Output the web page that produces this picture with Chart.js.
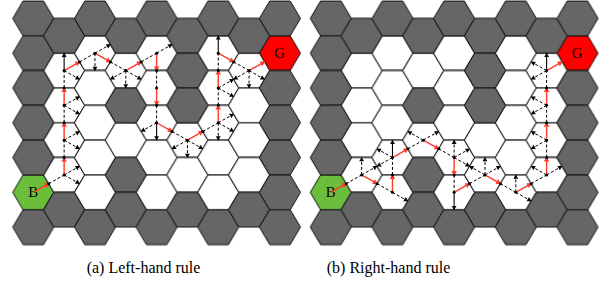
<!DOCTYPE html>
<html>
<head>
<meta charset="utf-8">
<script src="https://cdn.jsdelivr.net/npm/chart.js@4/dist/chart.umd.min.js"></script>
<style>
html, body { margin: 0; padding: 0; background: #fff; }
#wrap { position: relative; width: 608px; height: 285px; overflow: hidden; }
#wrap canvas { position: absolute; top: 0; }
.cap { position: absolute; top: 259px; font-family: "Liberation Serif", "DejaVu Serif", serif; font-size: 16px;
       line-height: 18px; white-space: nowrap; transform: translateX(-50%); color: #000; }
</style>
</head>
<body>
<div id="wrap">
  <canvas id="left" width="305" height="246" style="left:0"></canvas>
  <canvas id="right" width="303" height="246" style="left:305px"></canvas>
  <div class="cap" id="capL" style="left:143.5px"></div>
  <div class="cap" id="capR" style="left:388.5px"></div>
</div>
<script>
// cell map, one string per column from top to bottom: D wall, W free, B start, G goal
const COLS = ['DDDDDBD', 'DWWWWD', 'DWWWWWD', 'DWDWDD', 'DWWWWWD', 'DDDWWD', 'DWWWWWD', 'DWWWWD', 'DGDDDDD'];
const CAPTIONS = ['(a) Left-hand rule', '(b) Right-hand rule'];

// visited cells: [col, row, entered through, left through, dashed probes, solid probes]
const LEFT_PATH = [
  [0, 5, '', 'UR', '', ''],
  [1, 4, 'LL', 'T', 'UR LR', ''],
  [1, 3, 'B', 'T', 'UR LR', ''],
  [1, 2, 'B', 'T', 'UR LR', ''],
  [1, 1, 'B', 'UR', 'LR', 'T'],
  [2, 1, 'LL', 'LR', 'UR B', ''],
  [3, 1, 'UL', 'UR', 'B LL LR', ''],
  [4, 1, 'LL', 'B', 'UR', ''],
  [4, 2, 'T', 'B', '', ''],
  [4, 3, 'T', 'LR', 'LL', 'B'],
  [5, 3, 'UL', 'UR', 'LL B LR', ''],
  [6, 3, 'LL', 'T', 'UR LR B', ''],
  [6, 2, 'B', 'T', 'UR LR', ''],
  [6, 1, 'B', 'LR', '', 'T'],
  [7, 1, 'UL', 'UR', 'LL B LR', ''],
];
const RIGHT_PATH = [
  [0, 5, '', 'UR', '', ''],
  [1, 4, 'LL', 'LR', 'T UR', ''],
  [2, 5, 'UL', 'T', 'LR', ''],
  [2, 4, 'B', 'UR', 'UL LL', 'T'],
  [3, 3, 'LL', 'LR', 'UL UR', ''],
  [4, 4, 'UL', 'B', 'T UR LR', ''],
  [4, 5, 'T', 'UR', '', 'B'],
  [5, 4, 'LL', 'LR', 'UL T UR', ''],
  [6, 5, 'UL', 'UR', 'T LR', ''],
  [7, 4, 'LL', 'T', 'UL UR', ''],
  [7, 3, 'B', 'T', 'UL LL', ''],
  [7, 2, 'B', 'T', 'UL LL', ''],
  [7, 1, 'B', 'UR', 'UL LL', 'T'],
];

const FILL = { D: '#666666', W: '#ffffff', B: '#6abe3c', G: '#ff0000' };
const RED = '#ff3a28';
// edge midpoints relative to a cell centre (x in hex radii, y in half rows)
const EDGE = { T: [0, -1], B: [0, 1], UR: [0.75, -0.5], LR: [0.75, 0.5], UL: [-0.75, -0.5], LL: [-0.75, 0.5] };

function cellXY(c, r) {
  return { x: 1.5 * c, y: c % 2 ? 2 * r + 2 : 2 * r + 1 };
}

function buildArrows(path) {
  const out = { dash: [], solid: [], red: [], heads: [], redHeads: [], dots: [] };
  const gap = () => ({ x: NaN, y: NaN });
  const at = (p, e) => ({ x: p.x + EDGE[e][0], y: p.y + EDGE[e][1] });
  const seg = (list, a, b) => list.push({ ...a }, { ...b }, gap());
  const head = (list, a, b) => list.push({
    x: b.x - 0.14 * (b.x - a.x), y: b.y - 0.14 * (b.y - a.y), dx: b.x - a.x, dy: b.y - a.y,
  });
  path.forEach(([c, r, inn, exit, probes, walls]) => {
    const p = cellXY(c, r);
    if (inn) {
      const e = at(p, inn);
      seg(out.dash, e, p);
      out.dots.push({ ...e }, { ...p });
    }
    probes.split(' ').filter(Boolean).forEach(k => {
      const q = at(p, k); seg(out.dash, p, q); head(out.heads, p, q);
    });
    walls.split(' ').filter(Boolean).forEach(k => {
      const q = at(p, k); seg(out.solid, p, q); head(out.heads, p, q);
    });
    const q = at(p, exit);
    seg(out.red, p, q); head(out.redHeads, p, q);
  });
  return out;
}

const hexCache = {};
function hexStyle(fill) {
  return ctx => {
    const { x, y } = ctx.chart.scales;
    const rx = x.getPixelForValue(1) - x.getPixelForValue(0);
    const ry = Math.abs(y.getPixelForValue(1) - y.getPixelForValue(0));
    if (!isFinite(rx) || !isFinite(ry) || rx <= 0 || ry <= 0) return 'circle';
    const key = fill + rx.toFixed(3) + ry.toFixed(3);
    if (hexCache[key]) return hexCache[key];
    const cv = document.createElement('canvas');
    cv.width = Math.ceil(2 * rx) + 2;
    cv.height = Math.ceil(2 * ry) + 2;
    const g = cv.getContext('2d');
    const cx = cv.width / 2, cy = cv.height / 2;
    g.beginPath();
    g.moveTo(cx - rx, cy);
    g.lineTo(cx - rx / 2, cy - ry);
    g.lineTo(cx + rx / 2, cy - ry);
    g.lineTo(cx + rx, cy);
    g.lineTo(cx + rx / 2, cy + ry);
    g.lineTo(cx - rx / 2, cy + ry);
    g.closePath();
    g.fillStyle = fill;
    g.fill();
    g.lineWidth = 1;
    g.strokeStyle = '#111';
    g.stroke();
    hexCache[key] = cv;
    return cv;
  };
}

function headAngle(ctx) {
  if (!ctx.raw) return 0;
  const { x, y } = ctx.chart.scales;
  const kx = x.getPixelForValue(1) - x.getPixelForValue(0);
  const ky = y.getPixelForValue(1) - y.getPixelForValue(0);
  return Math.atan2(ctx.raw.dx * kx, -ctx.raw.dy * ky) * 180 / Math.PI;
}

const cellText = {
  id: 'cellText',
  afterDatasetDraw(chart, args) {
    const ds = chart.data.datasets[args.index];
    if (!ds.cellLabel) return;
    const ctx = chart.ctx;
    ctx.save();
    ctx.font = '15px "Liberation Serif", "DejaVu Serif", serif';
    ctx.fillStyle = '#000';
    ctx.textAlign = 'center';
    ctx.textBaseline = 'middle';
    args.meta.data.forEach(pt => ctx.fillText(ds.cellLabel, pt.x, pt.y + 1));
    ctx.restore();
  },
};

function hexSet(data, fill, label) {
  return { data, pointStyle: hexStyle(fill), pointRadius: 1, showLine: false, clip: false, order: 10, cellLabel: label };
}
function lineSet(data, color, dash, width, order) {
  return { data, showLine: true, borderColor: color, borderWidth: width, borderDash: dash,
           pointRadius: 0, fill: false, clip: false, order, spanGaps: false };
}
function pointSet(data, color, style, radius, rotation) {
  return { data, showLine: false, pointStyle: style, pointRadius: radius, pointRotation: rotation,
           pointBackgroundColor: color, pointBorderWidth: 0, clip: false, order: 0 };
}

function drawPanel(id, path, pad) {
  const a = buildArrows(path);
  const cells = { D: [], W: [], B: [], G: [] };
  COLS.forEach((col, c) => [...col].forEach((t, r) => cells[t].push(cellXY(c, r))));
  new Chart(document.getElementById(id), {
    type: 'scatter',
    data: {
      datasets: [
        hexSet(cells.D, FILL.D), hexSet(cells.W, FILL.W),
        hexSet(cells.B, FILL.B, 'B'), hexSet(cells.G, FILL.G, 'G'),
        lineSet(a.dash, '#000', [3, 2], 1, 4),
        lineSet(a.solid, '#000', [], 1.1, 3),
        lineSet(a.red, RED, [], 1.4, 2),
        pointSet(a.dots, '#000', 'circle', 1.5, 0),
        pointSet(a.heads, '#000', 'triangle', 2.8, headAngle),
        pointSet(a.redHeads, RED, 'triangle', 3.2, headAngle),
      ],
    },
    options: {
      responsive: false, animation: false, events: [], devicePixelRatio: 1,
      layout: { autoPadding: false, padding: pad },
      plugins: { legend: { display: false }, tooltip: { enabled: false } },
      scales: {
        x: { type: 'linear', min: -1, max: 13, display: false },
        y: { type: 'linear', min: 0, max: 14, reverse: true, display: false },
      },
    },
    plugins: [cellText],
  });
}

drawPanel('left', LEFT_PATH, { left: 12.75, right: 4.55, top: 1, bottom: 1.5 });
drawPanel('right', RIGHT_PATH, { left: 5.25, right: 10, top: 1, bottom: 1.5 });
document.getElementById('capL').textContent = CAPTIONS[0];
document.getElementById('capR').textContent = CAPTIONS[1];
</script>
</body>
</html>
